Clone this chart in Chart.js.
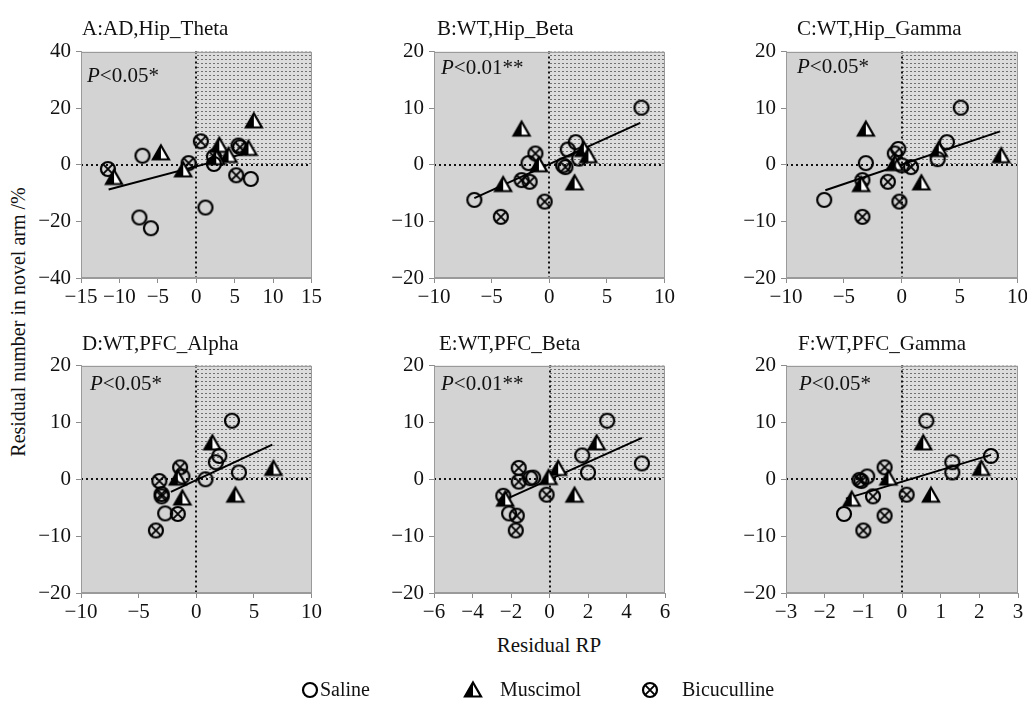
<!DOCTYPE html>
<html>
<head>
<meta charset="utf-8">
<script src="https://cdn.jsdelivr.net/npm/chart.js@4.4.1/dist/chart.umd.min.js"></script>
<style>
    body { margin: 0; background: #fff; }
    #page {
        position: relative;
        width: 1027px;
        height: 702px;
        overflow: hidden;
        background: #fff;
        font-family: "Liberation Serif", Tinos, "Times New Roman", "DejaVu Serif", serif;
        color: #111;
    }
    #page canvas.panel { position: absolute; }
    .txt { position: absolute; font-size: 21px; line-height: 24px; white-space: nowrap; }
    .legend-txt { font-size: 20px; }
    .ytitle { transform: translate(-50%, -50%) rotate(-90deg); font-size: 20px; }
    .legend-icon { position: absolute; }
</style>
</head>
<body>
<div id="page"></div>
<script>
// Panel text
const panelTitles = ['A:AD,Hip_Theta', 'B:WT,Hip_Beta', 'C:WT,Hip_Gamma',
                     'D:WT,PFC_Alpha', 'E:WT,PFC_Beta', 'F:WT,PFC_Gamma'];
const pTexts = ['<0.05*', '<0.01**', '<0.05*', '<0.05*', '<0.01**', '<0.05*'];

// Axis ranges [min, max, step]
const xRanges = [[-15, 15, 5], [-10, 10, 5], [-10, 10, 5], [-10, 10, 5], [-6, 6, 2], [-3, 3, 1]];
const yRanges = [[-40, 40, 20], [-20, 20, 10], [-20, 20, 10], [-20, 20, 10], [-20, 20, 10], [-20, 20, 10]];

// A: AD, Hip_Theta
const salineA = [[-7.0, 3.2], [-7.4, -18.6], [-5.9, -22.4], [1.2, -15.1], [2.3, 0.3], [7.1, -5.0], [5.5, 6.8]];
const muscimolA = [[-10.7, -4.5], [-4.6, 4.2], [-1.7, -1.8], [3.0, 6.9], [4.2, 3.3], [7.5, 15.5], [6.8, 5.8], [2.6, 2.5]];
const bicucullineA = [[-11.5, -1.5], [0.6, 8.3], [-1.0, 0.6], [2.3, 2.9], [5.2, -3.7], [5.7, 6.2]];
const trendA = [[-11.4, -8.7], [6.9, 4.4]];

// B: WT, Hip_Beta
const salineB = [[-6.5, -6.2], [8.0, 10.1], [-1.8, 0.3], [1.6, 2.7], [2.3, 4.0], [2.6, 1.1], [1.2, -0.1]];
const muscimolB = [[-2.4, 6.3], [-4.0, -3.5], [-0.9, 0.0], [2.2, -3.2], [3.0, 2.7], [3.4, 1.6]];
const bicucullineB = [[-4.2, -9.2], [-1.2, 2.0], [-2.4, -2.7], [-1.7, -3.0], [-0.4, -6.5], [1.4, -0.4]];
const trendB = [[-6.5, -5.9], [7.9, 7.4]];

// C: WT, Hip_Gamma
const salineC = [[-6.7, -6.2], [5.1, 10.1], [-3.1, 0.3], [-0.3, 2.8], [3.9, 4.0], [3.1, 1.0], [0.0, -0.1]];
const muscimolC = [[-3.1, 6.3], [-3.5, -3.5], [-0.6, 0.2], [1.7, -3.2], [3.2, 2.7], [8.6, 1.6]];
const bicucullineC = [[-3.4, -9.2], [-3.4, -2.7], [-1.2, -3.0], [-0.2, -6.5], [-0.6, 2.0], [0.8, -0.4]];
const trendC = [[-6.6, -4.5], [8.5, 5.9]];

// D: WT, PFC_Alpha
const salineD = [[3.1, 10.3], [2.0, 4.1], [1.7, 3.0], [3.7, 1.2], [0.8, 0.0], [-2.7, -6.0], [-1.2, 0.5]];
const muscimolD = [[1.4, 6.4], [-1.6, 0.2], [-1.2, -3.3], [3.4, -2.8], [6.7, 1.9]];
const bicucullineD = [[-3.5, -9.0], [-3.2, -0.3], [-3.0, -2.6], [-3.0, -3.0], [-1.4, 2.1], [-1.6, -6.1]];
const trendD = [[-2.2, -2.2], [6.6, 6.1]];

// E: WT, PFC_Beta
const salineE = [[3.0, 10.3], [1.7, 4.2], [2.0, 1.2], [4.8, 2.8], [-1.0, 0.2], [-2.1, -6.0], [-0.85, 0.3]];
const muscimolE = [[2.45, 6.4], [0.45, 1.9], [-0.05, 0.3], [1.3, -2.8], [-2.3, -3.5]];
const bicucullineE = [[-1.6, 2.0], [-1.6, -0.4], [-2.4, -2.9], [-1.7, -6.4], [-1.75, -9.0], [-0.15, -2.7]];
const trendE = [[-2.4, -3.7], [4.8, 7.3]];

// F: WT, PFC_Gamma
const salineF = [[0.63, 10.3], [-1.5, -6.1], [-0.9, 0.5], [1.3, 3.0], [1.3, 1.2], [2.3, 4.1]];
const muscimolF = [[0.55, 6.4], [-0.35, 0.2], [-1.3, -3.5], [0.75, -2.8], [2.05, 1.9]];
const bicucullineF = [[-1.1, -0.1], [-1.05, -0.3], [-0.75, -3.0], [-0.45, 2.1], [-0.45, -6.4], [-1.0, -9.0], [0.12, -2.7]];
const trendF = [[-1.45, -3.4], [2.3, 4.3]];

const salineSets = [salineA, salineB, salineC, salineD, salineE, salineF];
const muscimolSets = [muscimolA, muscimolB, muscimolC, muscimolD, muscimolE, muscimolF];
const bicucullineSets = [bicucullineA, bicucullineB, bicucullineC, bicucullineD, bicucullineE, bicucullineF];
const trendSets = [trendA, trendB, trendC, trendD, trendE, trendF];

// Layout (page pixels)
const areaLeft = [81, 434, 786, 81, 434, 786];
const areaTop = [48, 48, 48, 362, 362, 362];
const areaWidth = [231, 231, 232, 231, 231, 232];
const areaHeight = [230, 230, 230, 231, 231, 231];
const titleX = [82, 437, 797, 82, 439, 798];
const titleTop = [16, 16, 16, 331, 331, 331];
const pX = [87, 441, 797, 90, 441, 799];
const pTop = [63, 55, 54, 371, 371, 371];

const FONT = '"Liberation Serif", Tinos, "Times New Roman", "DejaVu Serif", serif';
const Y_AXIS_W = 45;
const X_AXIS_H = 30;
const PAD_TOP = 14;
const PAD_RIGHT = 12;

const page = document.getElementById('page');

// Marker images
function makeMarker(kind) {
    const s = 22;
    const c = document.createElement('canvas');
    c.width = s;
    c.height = s;
    const g = c.getContext('2d');
    const m = s / 2;
    g.strokeStyle = '#000';
    g.lineWidth = 2.2;
    if (kind === 'saline' || kind === 'bicuculline') {
        g.beginPath();
        g.arc(m, m, 7, 0, Math.PI * 2);
        g.stroke();
        if (kind === 'bicuculline') {
            const r = 4.6;
            g.lineWidth = 1.9;
            g.beginPath();
            g.moveTo(m - r, m - r); g.lineTo(m + r, m + r);
            g.moveTo(m + r, m - r); g.lineTo(m - r, m + r);
            g.stroke();
        }
    } else {
        const top = m - 7.5, bot = m + 6.5, half = 8;
        g.beginPath();
        g.moveTo(m, top); g.lineTo(m + half, bot); g.lineTo(m - half, bot); g.closePath();
        g.fillStyle = '#fff';
        g.fill();
        g.beginPath();
        g.moveTo(m, top); g.lineTo(m, bot); g.lineTo(m - half, bot); g.closePath();
        g.fillStyle = '#000';
        g.fill();
        g.beginPath();
        g.moveTo(m, top); g.lineTo(m + half, bot); g.lineTo(m - half, bot); g.closePath();
        g.lineJoin = 'miter';
        g.stroke();
    }
    return c;
}

const markers = {
    saline: makeMarker('saline'),
    muscimol: makeMarker('muscimol'),
    bicuculline: makeMarker('bicuculline')
};

// Stipple for the upper right quadrant
function makeStipple() {
    const c = document.createElement('canvas');
    c.width = 4;
    c.height = 4;
    const g = c.getContext('2d');
    g.fillStyle = '#dcdcdc';
    g.fillRect(0, 0, 4, 4);
    g.fillStyle = '#707070';
    g.fillRect(1, 1, 2, 1);
    return c;
}
const stippleTile = makeStipple();

const panelBackground = {
    id: 'panelBackground',
    beforeDraw(chart) {
        const { ctx, chartArea: a, scales: { x, y } } = chart;
        ctx.save();
        ctx.fillStyle = '#d3d3d3';
        ctx.fillRect(a.left, a.top, a.width, a.height);
        const x0 = x.getPixelForValue(0);
        const y0 = y.getPixelForValue(0);
        ctx.fillStyle = ctx.createPattern(stippleTile, 'repeat');
        ctx.fillRect(x0, a.top, a.right - x0, y0 - a.top);
        // dotted zero lines
        ctx.strokeStyle = '#111';
        ctx.lineWidth = 2;
        ctx.setLineDash([2, 3]);
        ctx.beginPath();
        ctx.moveTo(Math.round(x0), a.top);
        ctx.lineTo(Math.round(x0), a.bottom);
        ctx.moveTo(a.left, Math.round(y0));
        ctx.lineTo(a.right, Math.round(y0));
        ctx.stroke();
        ctx.restore();
    },
    afterDraw(chart) {
        const { ctx, chartArea: a } = chart;
        ctx.save();
        ctx.strokeStyle = '#9a9a9a';
        ctx.lineWidth = 1;
        ctx.strokeRect(Math.round(a.left) + 0.5, Math.round(a.top) + 0.5,
                       Math.round(a.width) - 1, Math.round(a.height) - 1);
        ctx.restore();
    }
};

function minusLabel(v) {
    return v < 0 ? '\u2212' + Math.abs(v) : String(v);
}

function toPoints(pairs) {
    return pairs.map(p => ({ x: p[0], y: p[1] }));
}

function addText(html, left, top, extraClass) {
    const d = document.createElement('div');
    d.className = 'txt' + (extraClass ? ' ' + extraClass : '');
    d.innerHTML = html;
    d.style.left = left + 'px';
    d.style.top = top + 'px';
    page.appendChild(d);
    return d;
}

function renderPanel(i) {
    const canvas = document.createElement('canvas');
    canvas.className = 'panel';
    const w = Y_AXIS_W + areaWidth[i] + PAD_RIGHT;
    const h = PAD_TOP + areaHeight[i] + X_AXIS_H;
    canvas.width = w;
    canvas.height = h;
    canvas.style.left = (areaLeft[i] - Y_AXIS_W) + 'px';
    canvas.style.top = (areaTop[i] - PAD_TOP) + 'px';
    canvas.style.width = w + 'px';
    canvas.style.height = h + 'px';
    page.appendChild(canvas);

    const [xMin, xMax, xStep] = xRanges[i];
    const [yMin, yMax, yStep] = yRanges[i];

    const tickFont = { family: FONT, size: 21 };

    new Chart(canvas, {
        type: 'scatter',
        data: {
            datasets: [
                {
                    label: 'Saline',
                    data: toPoints(salineSets[i]),
                    pointStyle: markers.saline,
                    pointRadius: 7
                },
                {
                    label: 'Muscimol',
                    data: toPoints(muscimolSets[i]),
                    pointStyle: markers.muscimol,
                    pointRadius: 7
                },
                {
                    label: 'Bicuculline',
                    data: toPoints(bicucullineSets[i]),
                    pointStyle: markers.bicuculline,
                    pointRadius: 7
                },
                {
                    label: 'Fit',
                    type: 'line',
                    data: toPoints(trendSets[i]),
                    showLine: true,
                    borderColor: '#000',
                    borderWidth: 2,
                    pointRadius: 0,
                    fill: false
                }
            ]
        },
        options: {
            responsive: false,
            animation: false,
            devicePixelRatio: 1,
            layout: { padding: { top: PAD_TOP, right: PAD_RIGHT, left: 0, bottom: 0 } },
            plugins: {
                legend: { display: false },
                tooltip: { enabled: false }
            },
            scales: {
                x: {
                    type: 'linear',
                    min: xMin,
                    max: xMax,
                    ticks: {
                        stepSize: xStep,
                        color: '#111',
                        font: tickFont,
                        padding: 2,
                        maxRotation: 0,
                        autoSkip: false,
                        callback: minusLabel
                    },
                    grid: { drawOnChartArea: false, drawTicks: true, tickLength: 5, color: '#8c8c8c' },
                    border: { display: true, color: '#9a9a9a', width: 1 },
                    afterFit: s => { s.height = X_AXIS_H; }
                },
                y: {
                    type: 'linear',
                    min: yMin,
                    max: yMax,
                    ticks: {
                        stepSize: yStep,
                        color: '#111',
                        font: tickFont,
                        padding: 5,
                        autoSkip: false,
                        callback: minusLabel
                    },
                    grid: { drawOnChartArea: false, drawTicks: true, tickLength: 5, color: '#8c8c8c' },
                    border: { display: true, color: '#9a9a9a', width: 1 },
                    afterFit: s => { s.width = Y_AXIS_W; }
                }
            }
        },
        plugins: [panelBackground]
    });

    addText(panelTitles[i], titleX[i], titleTop[i]);
    addText('<i>P</i>' + pTexts[i].replace('<', '&lt;'), pX[i], pTop[i]);
}

for (let i = 0; i < 6; i++) {
    renderPanel(i);
}

// Axis titles
const yTitle = addText('Residual number in novel arm /%', 18, 322, 'ytitle');
yTitle.style.lineHeight = '20px';
const xTitle = addText('Residual RP', 549, 633);
xTitle.style.transform = 'translateX(-50%)';

// Legend
const legendItems = [
    { key: 'saline', label: 'Saline', iconX: 310, textX: 320 },
    { key: 'muscimol', label: 'Muscimol', iconX: 473, textX: 500 },
    { key: 'bicuculline', label: 'Bicuculline', iconX: 650, textX: 682 }
];
legendItems.forEach(item => {
    const icon = document.createElement('canvas');
    icon.className = 'legend-icon';
    icon.width = 22;
    icon.height = 22;
    icon.getContext('2d').drawImage(markers[item.key], 0, 0);
    icon.style.left = (item.iconX - 11) + 'px';
    icon.style.top = (690 - 11) + 'px';
    page.appendChild(icon);
    addText(item.label, item.textX, 677, 'legend-txt');
});
</script>
</body>
</html>
